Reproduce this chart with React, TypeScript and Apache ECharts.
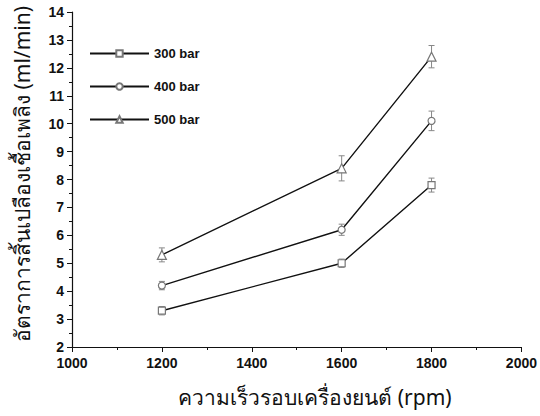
import React, { useEffect, useRef } from "react";
import * as echarts from "echarts";

const rpm = [1200, 1600, 1800];
const s300 = [3.3, 5.0, 7.8];
const s400 = [4.2, 6.2, 10.1];
const s500 = [5.3, 8.4, 12.4];
const e300 = [0.15, 0.15, 0.25];
const e400 = [0.15, 0.2, 0.35];
const e500 = [0.25, 0.45, 0.4];
const seriesNames = ["300 bar", "400 bar", "500 bar"];
const symbols = ["rect", "circle", "triangle"];
const xTitle = "ความเร็วรอบเครื่องยนต์ (rpm)";
const yTitle = "อัตราการสิ้นเปลืองเชื้อเพลิง (ml/min)";

const FONT = "Liberation Sans, Arial, sans-serif";
const THAI = "Noto Sans, DejaVu Sans, sans-serif";

export default function App() {
  const ref = useRef<HTMLDivElement>(null);
  useEffect(() => {
    if (!ref.current) return;
    const chart = echarts.init(ref.current, undefined, { renderer: "svg" });
    const vals = [s300, s400, s500];
    const errs = [e300, e400, e500];
    const lineSeries = vals.map((v, i) => ({
      name: seriesNames[i],
      type: "line",
      data: rpm.map((x, j) => [x, v[j]]),
      symbol: symbols[i],
      symbolSize: i === 2 ? 9 : 7,
      lineStyle: { color: "#111", width: 1.4 },
      itemStyle: { color: "#fff", borderColor: "#777", borderWidth: 1.2 },
      z: 3,
    }));
    const errSeries = vals.map((v, i) => ({
      name: seriesNames[i] + " err",
      type: "custom",
      data: rpm.map((x, j) => [x, v[j] - errs[i][j], v[j] + errs[i][j]]),
      renderItem: (params: any, api: any) => {
        const x = api.value(0);
        const lo = api.coord([x, api.value(1)]);
        const hi = api.coord([x, api.value(2)]);
        const w = 3;
        const st = { stroke: "#888", lineWidth: 1 };
        return {
          type: "group",
          children: [
            { type: "line", shape: { x1: lo[0], y1: lo[1], x2: hi[0], y2: hi[1] }, style: st },
            { type: "line", shape: { x1: lo[0] - w, y1: lo[1], x2: lo[0] + w, y2: lo[1] }, style: st },
            { type: "line", shape: { x1: hi[0] - w, y1: hi[1], x2: hi[0] + w, y2: hi[1] }, style: st },
          ],
        };
      },
      z: 2,
    }));
    chart.setOption({
      animation: false,
      grid: { left: 72, right: 17, top: 12, bottom: 69 },
      legend: {
        data: seriesNames,
        orient: "vertical",
        left: 84,
        top: 42,
        itemWidth: 59,
        itemHeight: 8,
        itemGap: 20,
        textStyle: { fontFamily: FONT, fontWeight: "bold", fontSize: 13, color: "#111" },
      },
      graphic: [
        {
          type: "text",
          x: 315,
          y: 397,
          style: {
            text: xTitle,
            font: "21px " + THAI,
            fill: "#111",
            align: "center",
            verticalAlign: "middle",
          },
        },
        {
          type: "text",
          x: 22,
          y: 174,
          rotation: Math.PI / 2,
          style: {
            text: yTitle,
            font: "21px " + THAI,
            fill: "#111",
            align: "center",
            verticalAlign: "middle",
          },
        },
      ],
      xAxis: {
        type: "value",
        min: 1000,
        max: 2000,
        interval: 200,
        axisLine: { lineStyle: { color: "#111", width: 1.2 } },
        axisTick: { length: 5, lineStyle: { color: "#111" } },
        minorTick: { show: true, splitNumber: 2, length: 3, lineStyle: { color: "#111" } },
        splitLine: { show: false },
        axisLabel: {
          fontFamily: FONT,
          fontWeight: "bold",
          fontSize: 14,
          color: "#111",
          margin: 9,
          formatter: (v: number) => String(v),
        },
      },
      yAxis: {
        type: "value",
        min: 2,
        max: 14,
        interval: 1,
        axisLine: { show: true, lineStyle: { color: "#111", width: 1.2 } },
        axisTick: { show: true, length: 5, lineStyle: { color: "#111" } },
        minorTick: { show: true, splitNumber: 2, length: 3, lineStyle: { color: "#111" } },
        splitLine: { show: false },
        axisLabel: { fontFamily: FONT, fontWeight: "bold", fontSize: 14, color: "#111", margin: 8 },
      },
      series: [...errSeries, ...lineSeries],
    });
    return () => chart.dispose();
  }, []);
  return <div ref={ref} style={{ width: 540, height: 416, position: "absolute", left: 0, top: 0 }} />;
}
